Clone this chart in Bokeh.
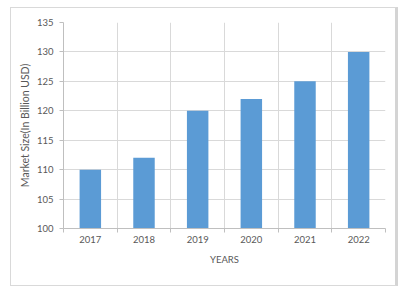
from bokeh.plotting import figure
from bokeh.models import ColumnDataSource, Range1d, LinearAxis, FixedTicker
from bokeh.embed import file_html
from bokeh.resources import INLINE

years = ["2017", "2018", "2019", "2020", "2021", "2022"]
market_size = [110, 112, 120, 122, 125, 130]
y_ticks = [100, 105, 110, 115, 120, 125, 130, 135]

FONT = "Lato"
TXT = "#595959"
GRID = "#D9D9D9"
AXIS = "#BFBFBF"
BAR = "#5B9BD5"

xpos = [i + 0.5 for i in range(len(years))]
bounds = list(range(len(years) + 1))
src = ColumnDataSource(dict(x=xpos, size=market_size))

p = figure(frame_width=322, frame_height=206, x_range=Range1d(0, len(years)),
           y_range=Range1d(y_ticks[0], y_ticks[-1]),
           output_backend="svg", toolbar_location=None,
           x_axis_location=None,
           min_border_left=52, min_border_right=10, min_border_top=14,
           min_border_bottom=57)
p.margin = (7, 0, 0, 10)
p.styles = {"border": "1px solid #D9D9D9", "border-right": "3px solid #D4D4D4"}

p.vbar(x="x", top="size", bottom=y_ticks[0], width=0.4, source=src,
       color=BAR, line_color=None)

p.outline_line_color = None
p.background_fill_color = "white"
p.border_fill_color = "white"

# grids
p.xgrid.ticker = FixedTicker(ticks=bounds)
p.xgrid.grid_line_color = GRID
p.ygrid.ticker = FixedTicker(ticks=y_ticks)
p.ygrid.grid_line_color = GRID

# y axis
ya = p.yaxis[0]
ya.ticker = FixedTicker(ticks=y_ticks)
ya.axis_line_color = AXIS
ya.major_tick_line_color = AXIS
ya.major_tick_in = 0
ya.major_tick_out = 4
ya.minor_tick_line_color = None
ya.major_label_standoff = 6
ya.major_label_text_font = FONT
ya.major_label_text_font_size = "9.5px"
ya.major_label_text_color = TXT
ya.axis_label = "Market Size(In Billion USD)"
ya.axis_label_text_font = FONT
ya.axis_label_text_font_size = "10.5px"
ya.axis_label_text_font_style = "normal"
ya.axis_label_text_color = TXT
ya.axis_label_standoff = 3

# axis with boundary ticks (no labels)
na = LinearAxis(ticker=FixedTicker(ticks=bounds),
                major_label_overrides={b: "" for b in bounds})
na.axis_line_color = AXIS
na.major_tick_line_color = AXIS
na.major_tick_in = 0
na.major_tick_out = 4
na.minor_tick_line_color = None
na.major_label_standoff = 0
na.major_label_text_font_size = "1px"
p.add_layout(na, "below")

# axis with year labels
ca = LinearAxis(ticker=FixedTicker(ticks=xpos),
                major_label_overrides={x: y for x, y in zip(xpos, years)})
ca.axis_line_color = None
ca.major_tick_line_color = None
ca.minor_tick_line_color = None
ca.major_tick_in = 0
ca.major_tick_out = 0
ca.major_label_standoff = 3
ca.major_label_text_font = FONT
ca.major_label_text_font_size = "9.5px"
ca.major_label_text_color = TXT
ca.axis_label = "YEARS"
ca.axis_label_text_font = FONT
ca.axis_label_text_font_size = "9.5px"
ca.axis_label_text_font_style = "normal"
ca.axis_label_text_color = TXT
ca.axis_label_standoff = 8
p.add_layout(ca, "below")

open("out.html", "w").write(file_html(p, INLINE))
